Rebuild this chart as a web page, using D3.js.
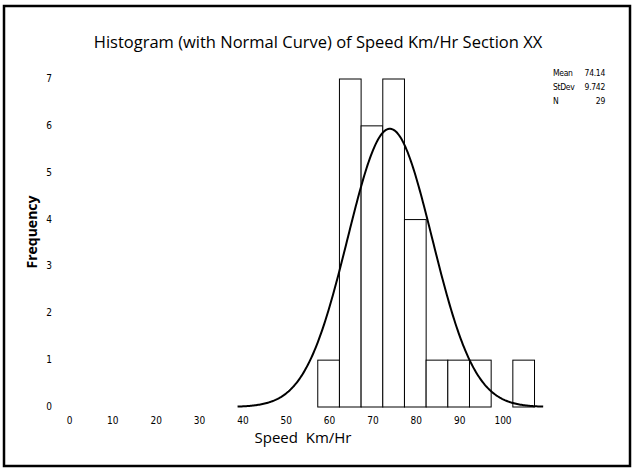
<!DOCTYPE html>
<html>
<head>
<meta charset="utf-8">
<script src="https://cdn.jsdelivr.net/npm/d3@7"></script>
<style>
  body { margin: 0; background: #fff; }
  text { font-family: "Open Sans", "Noto Sans", sans-serif; fill: #000; }
  .narrow { font-family: "Liberation Sans Narrow", "DejaVu Sans Condensed", "Liberation Sans", sans-serif; }
</style>
</head>
<body>
<div id="chart"></div>
<script>
// histogram bins (midpoints, width 5) and counts
var binMids = [60, 65, 70, 75, 80, 85, 90, 95, 100, 105]
var counts = [1, 7, 6, 7, 4, 1, 1, 1, 0, 1]
var binWidth = 5
var xTicks = [0, 10, 20, 30, 40, 50, 60, 70, 80, 90, 100]
var yTicks = [0, 1, 2, 3, 4, 5, 6, 7]
var statLabels = ["Mean", "StDev", "N"]
var statValues = ["74.14", "9.742", "29"]
var mean = 74.14, sd = 9.742, n = 29

var width = 634, height = 468

var svg = d3.select("#chart").append("svg")
  .attr("width", width)
  .attr("height", height)

// outer frame
svg.append("rect")
  .attr("x", 4).attr("y", 6)
  .attr("width", 626).attr("height", 460)
  .attr("fill", "none").attr("stroke", "#000").attr("stroke-width", 2.5)

var x = d3.scaleLinear().domain([0, 100]).range([68.5, 502])
var y = d3.scaleLinear().domain([0, 7]).range([407, 79])

// bars
svg.selectAll("rect.bar")
  .data(binMids.map((m, i) => ({ m: m, c: counts[i] })).filter(d => d.c > 0))
  .enter().append("rect")
  .attr("class", "bar")
  .attr("x", d => x(d.m - binWidth / 2))
  .attr("width", d => x(d.m + binWidth / 2) - x(d.m - binWidth / 2))
  .attr("y", d => y(d.c))
  .attr("height", d => y(0) - y(d.c))
  .attr("fill", "#fff").attr("stroke", "#000").attr("stroke-width", 1)

// fitted normal curve from the stated mean / stdev / N
var curveX = d3.range(39, 109.6, 0.25)
var scaleF = n * binWidth / (sd * Math.sqrt(2 * Math.PI))
var line = d3.line()
  .x(v => x(v))
  .y(v => y(scaleF * Math.exp(-0.5 * Math.pow((v - mean) / sd, 2))))
svg.append("path")
  .datum(curveX)
  .attr("d", line)
  .attr("fill", "none").attr("stroke", "#000").attr("stroke-width", 2)

// x tick labels
svg.selectAll("text.xt")
  .data(xTicks).enter().append("text")
  .attr("class", "narrow")
  .attr("x", d => x(d) + 1)
  .attr("y", 424)
  .attr("text-anchor", "middle")
  .attr("font-size", 10)
  .text(d => d)

// y tick labels
svg.selectAll("text.yt")
  .data(yTicks).enter().append("text")
  .attr("class", "narrow")
  .attr("x", 49)
  .attr("y", d => y(d) + 3)
  .attr("text-anchor", "middle")
  .attr("font-size", 10)
  .text(d => d)

// title and axis labels
svg.append("text")
  .attr("x", 318).attr("y", 48)
  .attr("text-anchor", "middle")
  .attr("font-size", 16.5)
  .text("Histogram (with Normal Curve) of Speed Km/Hr Section XX")

svg.append("text")
  .attr("x", 303).attr("y", 443)
  .attr("text-anchor", "middle")
  .attr("font-size", 15)
  .text("Speed\u00a0\u00a0Km/Hr")

svg.append("text")
  .attr("transform", "translate(37,232) rotate(-90)")
  .attr("text-anchor", "middle")
  .attr("font-size", 14)
  .attr("font-weight", "bold")
  .text("Frequency")

// stats legend
var leg = svg.append("g").attr("font-size", 8.5)
statLabels.forEach(function(s, i) {
  leg.append("text").attr("class", "narrow").attr("x", 553).attr("y", 76 + i * 14)
    .attr("letter-spacing", -0.3).text(s)
  leg.append("text").attr("class", "narrow").attr("x", 605).attr("y", 76 + i * 14)
    .attr("letter-spacing", -0.3)
    .attr("text-anchor", "end").text(statValues[i])
})
</script>
</body>
</html>
